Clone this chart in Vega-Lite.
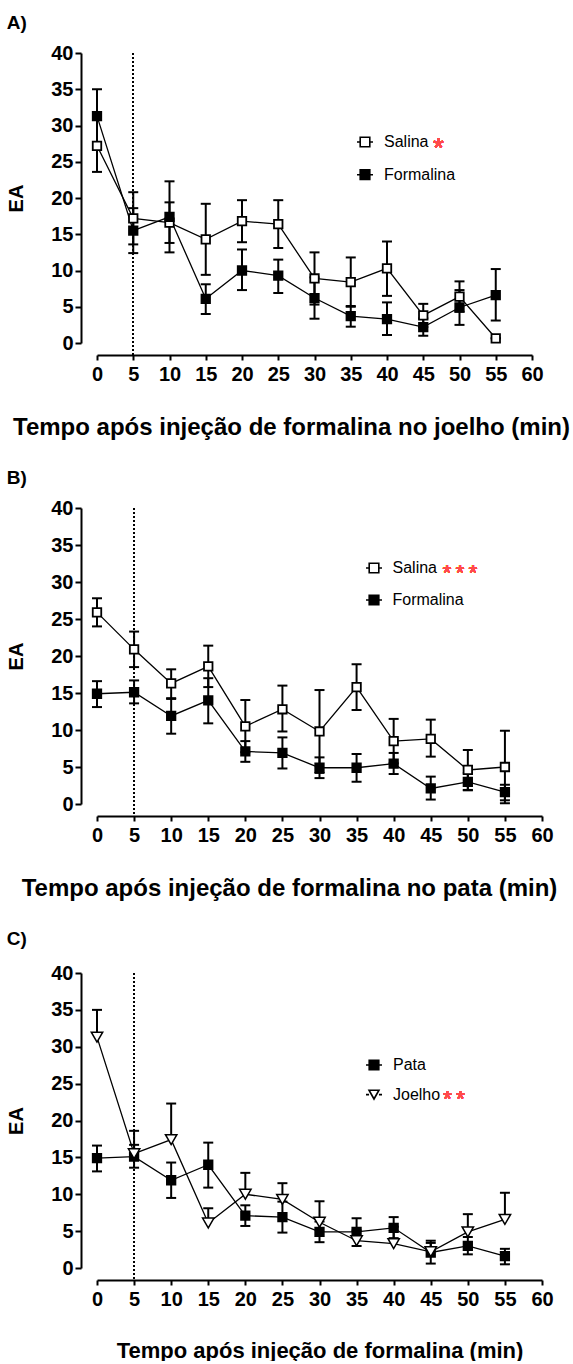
{
  "$schema": "https://vega.github.io/schema/vega-lite/v6.json",
  "padding": {"top": 14, "left": 6, "right": 0, "bottom": 0},
  "spacing": 30,
  "datasets": {
    "A": [
      {"t": 0, "grupo": "Salina", "ea": 27.2, "lo": 23.6, "hi": 30.8},
      {"t": 5, "grupo": "Salina", "ea": 17.2, "lo": 13.6, "hi": 20.8},
      {"t": 10, "grupo": "Salina", "ea": 16.6, "lo": 13.8, "hi": 19.4},
      {"t": 15, "grupo": "Salina", "ea": 14.3, "lo": 9.4, "hi": 19.2},
      {"t": 20, "grupo": "Salina", "ea": 16.8, "lo": 13.9, "hi": 19.7},
      {"t": 25, "grupo": "Salina", "ea": 16.4, "lo": 13.1, "hi": 19.7},
      {"t": 30, "grupo": "Salina", "ea": 8.9, "lo": 5.3, "hi": 12.5},
      {"t": 35, "grupo": "Salina", "ea": 8.4, "lo": 5.0, "hi": 11.8},
      {"t": 40, "grupo": "Salina", "ea": 10.3, "lo": 6.5, "hi": 14.0},
      {"t": 45, "grupo": "Salina", "ea": 3.8, "lo": 2.2, "hi": 5.4},
      {"t": 50, "grupo": "Salina", "ea": 6.4, "lo": 4.3, "hi": 8.5},
      {"t": 55, "grupo": "Salina", "ea": 0.65, "lo": 0.65, "hi": 0.65},
      {"t": 0, "grupo": "Formalina", "ea": 31.3, "lo": 27.6, "hi": 35.0},
      {"t": 5, "grupo": "Formalina", "ea": 15.5, "lo": 12.4, "hi": 18.6},
      {"t": 10, "grupo": "Formalina", "ea": 17.4, "lo": 12.5, "hi": 22.3},
      {"t": 15, "grupo": "Formalina", "ea": 6.1, "lo": 4.0, "hi": 8.1},
      {"t": 20, "grupo": "Formalina", "ea": 10.0, "lo": 7.3, "hi": 12.9},
      {"t": 25, "grupo": "Formalina", "ea": 9.3, "lo": 6.9, "hi": 11.5},
      {"t": 30, "grupo": "Formalina", "ea": 6.2, "lo": 3.35, "hi": 9.05},
      {"t": 35, "grupo": "Formalina", "ea": 3.7, "lo": 2.25, "hi": 5.1},
      {"t": 40, "grupo": "Formalina", "ea": 3.3, "lo": 1.1, "hi": 5.6},
      {"t": 45, "grupo": "Formalina", "ea": 2.2, "lo": 1.0, "hi": 3.4},
      {"t": 50, "grupo": "Formalina", "ea": 4.9, "lo": 2.5, "hi": 7.3},
      {"t": 55, "grupo": "Formalina", "ea": 6.6, "lo": 3.1, "hi": 10.2}
    ],
    "B": [
      {"t": 0, "grupo": "Salina", "ea": 25.9, "lo": 24.0, "hi": 27.8},
      {"t": 5, "grupo": "Salina", "ea": 20.9, "lo": 18.5, "hi": 23.3},
      {"t": 10, "grupo": "Salina", "ea": 16.3, "lo": 14.2, "hi": 18.2},
      {"t": 15, "grupo": "Salina", "ea": 18.6, "lo": 15.8, "hi": 21.4},
      {"t": 20, "grupo": "Salina", "ea": 10.5, "lo": 7.0, "hi": 14.05},
      {"t": 25, "grupo": "Salina", "ea": 12.8, "lo": 9.8, "hi": 16.0},
      {"t": 30, "grupo": "Salina", "ea": 9.8, "lo": 4.2, "hi": 15.4},
      {"t": 35, "grupo": "Salina", "ea": 15.8, "lo": 12.7, "hi": 18.9},
      {"t": 40, "grupo": "Salina", "ea": 8.5, "lo": 5.5, "hi": 11.5},
      {"t": 45, "grupo": "Salina", "ea": 8.8, "lo": 6.4, "hi": 11.4},
      {"t": 50, "grupo": "Salina", "ea": 4.6, "lo": 1.9, "hi": 7.3},
      {"t": 55, "grupo": "Salina", "ea": 5.0, "lo": 0.1, "hi": 9.9},
      {"t": 0, "grupo": "Formalina", "ea": 14.9, "lo": 13.1, "hi": 16.6},
      {"t": 5, "grupo": "Formalina", "ea": 15.1, "lo": 13.6, "hi": 16.7},
      {"t": 10, "grupo": "Formalina", "ea": 11.9, "lo": 9.5, "hi": 14.3},
      {"t": 15, "grupo": "Formalina", "ea": 14.0, "lo": 10.9, "hi": 17.0},
      {"t": 20, "grupo": "Formalina", "ea": 7.1, "lo": 5.7, "hi": 8.5},
      {"t": 25, "grupo": "Formalina", "ea": 6.9, "lo": 4.8, "hi": 9.0},
      {"t": 30, "grupo": "Formalina", "ea": 4.9, "lo": 3.5, "hi": 6.3},
      {"t": 35, "grupo": "Formalina", "ea": 4.9, "lo": 3.0, "hi": 6.75},
      {"t": 40, "grupo": "Formalina", "ea": 5.45, "lo": 4.05, "hi": 6.9},
      {"t": 45, "grupo": "Formalina", "ea": 2.1, "lo": 0.6, "hi": 3.7},
      {"t": 50, "grupo": "Formalina", "ea": 3.0, "lo": 1.85, "hi": 4.2},
      {"t": 55, "grupo": "Formalina", "ea": 1.6, "lo": 0.5, "hi": 2.6}
    ],
    "C": [
      {"t": 0, "grupo": "Pata", "ea": 14.9, "lo": 13.1, "hi": 16.6},
      {"t": 5, "grupo": "Pata", "ea": 15.1, "lo": 13.6, "hi": 16.7},
      {"t": 10, "grupo": "Pata", "ea": 11.9, "lo": 9.5, "hi": 14.3},
      {"t": 15, "grupo": "Pata", "ea": 14.0, "lo": 10.9, "hi": 17.0},
      {"t": 20, "grupo": "Pata", "ea": 7.1, "lo": 5.7, "hi": 8.5},
      {"t": 25, "grupo": "Pata", "ea": 6.9, "lo": 4.8, "hi": 9.0},
      {"t": 30, "grupo": "Pata", "ea": 4.9, "lo": 3.5, "hi": 6.3},
      {"t": 35, "grupo": "Pata", "ea": 4.9, "lo": 3.0, "hi": 6.75},
      {"t": 40, "grupo": "Pata", "ea": 5.45, "lo": 4.05, "hi": 6.9},
      {"t": 45, "grupo": "Pata", "ea": 2.1, "lo": 0.6, "hi": 3.7},
      {"t": 50, "grupo": "Pata", "ea": 3.0, "lo": 1.85, "hi": 4.2},
      {"t": 55, "grupo": "Pata", "ea": 1.6, "lo": 0.5, "hi": 2.6},
      {"t": 0, "grupo": "Joelho", "ea": 31.3, "lo": 31.3, "hi": 35.0},
      {"t": 5, "grupo": "Joelho", "ea": 15.5, "lo": 15.5, "hi": 18.6},
      {"t": 10, "grupo": "Joelho", "ea": 17.4, "lo": 17.4, "hi": 22.3},
      {"t": 15, "grupo": "Joelho", "ea": 6.1, "lo": 6.1, "hi": 8.1},
      {"t": 20, "grupo": "Joelho", "ea": 10.0, "lo": 10.0, "hi": 12.9},
      {"t": 25, "grupo": "Joelho", "ea": 9.3, "lo": 9.3, "hi": 11.5},
      {"t": 30, "grupo": "Joelho", "ea": 6.2, "lo": 6.2, "hi": 9.05},
      {"t": 35, "grupo": "Joelho", "ea": 3.7, "lo": 3.7, "hi": 5.1},
      {"t": 40, "grupo": "Joelho", "ea": 3.3, "lo": 3.3, "hi": 5.6},
      {"t": 45, "grupo": "Joelho", "ea": 2.2, "lo": 2.2, "hi": 3.4},
      {"t": 50, "grupo": "Joelho", "ea": 4.9, "lo": 4.9, "hi": 7.3},
      {"t": 55, "grupo": "Joelho", "ea": 6.6, "lo": 6.6, "hi": 10.2}
    ]
  },
  "resolve": {"scale": {"fill": "independent", "stroke": "independent"}, "legend": {"fill": "independent", "stroke": "independent"}},
  "vconcat": [
    {
      "width": 435,
      "height": 290,
      "title": {"text": "A)"},
      "data": {"name": "A"},
      "encoding": {
        "x": {"field": "t", "type": "quantitative", "title": "Tempo após injeção de formalina no joelho (min)",
              "scale": {"domain": [0, 60], "nice": false},
              "axis": {"values": [0,5,10,15,20,25,30,35,40,45,50,55,60], "labelOverlap": false, "labelSeparation": -40, "titleFontSize": 24, "titleX": 194}},
        "y": {"field": "ea", "type": "quantitative", "title": "EA",
              "scale": {"domain": [0, 40], "nice": false},
              "axis": {"values": [0,5,10,15,20,25,30,35,40], "labelOverlap": false, "labelSeparation": -40}}
      },
      "layer": [
        {
          "mark": {"type": "rule", "strokeDash": [2, 2], "strokeWidth": 1, "color": "black"},
          "encoding": {
            "x": {"datum": 5, "type": "quantitative"},
            "y": {"datum": 40, "type": "quantitative"},
            "y2": {"datum": -1.6}
          }
        },
        {
          "mark": {"type": "line", "color": "black", "strokeWidth": 1.3},
          "encoding": {"detail": {"field": "grupo"}}
        },
        {
          "mark": {"type": "rule", "color": "black", "strokeWidth": 2},
          "encoding": {"y": {"field": "lo", "type": "quantitative", "title": "EA"}, "y2": {"field": "hi"}}
        },
        {
          "mark": {"type": "tick", "orient": "horizontal", "size": 10, "thickness": 2, "color": "black", "opacity": 1},
          "encoding": {"y": {"field": "lo", "type": "quantitative", "title": "EA"}}
        },
        {
          "mark": {"type": "tick", "orient": "horizontal", "size": 10, "thickness": 2, "color": "black", "opacity": 1},
          "encoding": {"y": {"field": "hi", "type": "quantitative", "title": "EA"}}
        },
        {
          "mark": {"type": "point", "shape": "square", "size": 72, "filled": true, "opacity": 1, "stroke": "black", "strokeWidth": 1.8},
          "encoding": {
            "fill": {"field": "grupo", "type": "nominal",
                     "scale": {"domain": ["Salina", "Formalina"], "range": ["white", "black"]},
                     "legend": {"orient": "none", "legendX": 259, "legendY": 80, "rowPadding": 15.7, "labelOffset": 10,
                                "symbolType": "M-1,0H-0.6M0.6,0H1M-0.6,-0.6H0.6V0.6H-0.6Z"}}
          }
        },
        {
          "mark": {"type": "text", "text": "*", "fontSize": 27, "color": "#ff4a4a", "align": "center", "baseline": "middle", "dy": 8},
          "encoding": {
            "x": {"datum": 47.1, "type": "quantitative"},
            "y": {"datum": 27.9, "type": "quantitative"}
          }
        }
      ]
    },
    {
      "width": 445,
      "height": 296,
      "title": {"text": "B)"},
      "data": {"name": "B"},
      "encoding": {
        "x": {"field": "t", "type": "quantitative", "title": "Tempo após injeção de formalina no pata (min)",
              "scale": {"domain": [0, 60], "nice": false},
              "axis": {"values": [0,5,10,15,20,25,30,35,40,45,50,55,60], "labelOverlap": false, "labelSeparation": -40, "titleFontSize": 24, "titleX": 192}},
        "y": {"field": "ea", "type": "quantitative", "title": "EA",
              "scale": {"domain": [0, 40], "nice": false},
              "axis": {"values": [0,5,10,15,20,25,30,35,40], "labelOverlap": false, "labelSeparation": -40}}
      },
      "layer": [
        {
          "mark": {"type": "rule", "strokeDash": [2, 2], "strokeWidth": 1, "color": "black"},
          "encoding": {
            "x": {"datum": 5, "type": "quantitative"},
            "y": {"datum": 40, "type": "quantitative"},
            "y2": {"datum": -1.6}
          }
        },
        {
          "mark": {"type": "line", "color": "black", "strokeWidth": 1.3},
          "encoding": {"detail": {"field": "grupo"}}
        },
        {
          "mark": {"type": "rule", "color": "black", "strokeWidth": 2},
          "encoding": {"y": {"field": "lo", "type": "quantitative", "title": "EA"}, "y2": {"field": "hi"}}
        },
        {
          "mark": {"type": "tick", "orient": "horizontal", "size": 10, "thickness": 2, "color": "black", "opacity": 1},
          "encoding": {"y": {"field": "lo", "type": "quantitative", "title": "EA"}}
        },
        {
          "mark": {"type": "tick", "orient": "horizontal", "size": 10, "thickness": 2, "color": "black", "opacity": 1},
          "encoding": {"y": {"field": "hi", "type": "quantitative", "title": "EA"}}
        },
        {
          "mark": {"type": "point", "shape": "square", "size": 72, "filled": true, "opacity": 1, "stroke": "black", "strokeWidth": 1.8},
          "encoding": {
            "fill": {"field": "grupo", "type": "nominal",
                     "scale": {"domain": ["Salina", "Formalina"], "range": ["white", "black"]},
                     "legend": {"orient": "none", "legendX": 268, "legendY": 51, "rowPadding": 15, "labelOffset": 9.5,
                                "symbolType": "M-1,0H-0.6M0.6,0H1M-0.6,-0.6H0.6V0.6H-0.6Z"}}
          }
        },
        {
          "mark": {"type": "text", "text": "*\u2009*\u2009*", "fontSize": 22, "color": "#ff4a4a", "align": "center", "baseline": "middle", "dy": 6},
          "encoding": {
            "x": {"datum": 48.94, "type": "quantitative"},
            "y": {"datum": 31.99, "type": "quantitative"}
          }
        }
      ]
    },
    {
      "width": 445,
      "height": 295,
      "title": {"text": "C)", "offset": 14},
      "data": {"name": "C"},
      "encoding": {
        "x": {"field": "t", "type": "quantitative", "title": "Tempo após injeção de formalina  (min)",
              "scale": {"domain": [0, 60], "nice": false},
              "axis": {"values": [0,5,10,15,20,25,30,35,40,45,50,55,60], "labelOverlap": false, "labelSeparation": -40}},
        "y": {"field": "ea", "type": "quantitative", "title": "EA",
              "scale": {"domain": [0, 40], "nice": false},
              "axis": {"values": [0,5,10,15,20,25,30,35,40], "labelOverlap": false, "labelSeparation": -40}}
      },
      "layer": [
        {
          "mark": {"type": "rule", "strokeDash": [2, 2], "strokeWidth": 1, "color": "black"},
          "encoding": {
            "x": {"datum": 5, "type": "quantitative"},
            "y": {"datum": 40, "type": "quantitative"},
            "y2": {"datum": -1.6}
          }
        },
        {
          "mark": {"type": "line", "color": "black", "strokeWidth": 1.3},
          "encoding": {"detail": {"field": "grupo"}}
        },
        {
          "mark": {"type": "rule", "color": "black", "strokeWidth": 2},
          "encoding": {"y": {"field": "lo", "type": "quantitative", "title": "EA"}, "y2": {"field": "hi"}}
        },
        {
          "transform": [{"filter": "datum.grupo === 'Pata'"}],
          "mark": {"type": "tick", "orient": "horizontal", "size": 10, "thickness": 2, "color": "black", "opacity": 1},
          "encoding": {"y": {"field": "lo", "type": "quantitative", "title": "EA"}}
        },
        {
          "mark": {"type": "tick", "orient": "horizontal", "size": 10, "thickness": 2, "color": "black", "opacity": 1},
          "encoding": {"y": {"field": "hi", "type": "quantitative", "title": "EA"}}
        },
        {
          "transform": [{"filter": "datum.grupo === 'Pata'"}],
          "mark": {"type": "point", "shape": "square", "size": 72, "filled": true, "opacity": 1, "stroke": "black", "strokeWidth": 1.8},
          "encoding": {
            "fill": {"field": "grupo", "type": "nominal",
                     "scale": {"domain": ["Pata"], "range": ["black"]},
                     "legend": {"orient": "none", "legendX": 268, "legendY": 83, "labelOffset": 10,
                                "symbolType": "M-1,0H-0.6M0.6,0H1M-0.6,-0.6H0.6V0.6H-0.6Z"}}
          }
        },
        {
          "transform": [{"filter": "datum.grupo === 'Joelho'"}],
          "mark": {"type": "point", "shape": "triangle-down", "size": 130, "filled": true, "fill": "white", "opacity": 1, "strokeWidth": 1.5},
          "encoding": {
            "stroke": {"field": "grupo", "type": "nominal",
                       "scale": {"domain": ["Joelho"], "range": ["black"]},
                       "legend": {"orient": "none", "legendX": 268, "legendY": 112.6, "labelOffset": 10,
                                  "symbolFillColor": "white",
                                  "symbolType": "M-1,0H-0.62M0.62,0H1M0,0.55L-0.62,-0.55L0.62,-0.55Z"}}
          }
        },
        {
          "mark": {"type": "text", "text": "*\u2009*", "fontSize": 22, "color": "#ff4a4a", "align": "center", "baseline": "middle", "dy": 6},
          "encoding": {
            "x": {"datum": 48.13, "type": "quantitative"},
            "y": {"datum": 23.69, "type": "quantitative"}
          }
        }
      ]
    }
  ],
  "config": {
    "font": "Liberation Sans",
    "view": {"stroke": null},
    "title": {"anchor": "start", "frame": "bounds", "fontSize": 19, "fontWeight": "bold", "offset": 10, "color": "black"},
    "axis": {
      "grid": false,
      "domainColor": "black",
      "domainWidth": 2,
      "tickColor": "black",
      "tickWidth": 2,
      "labelColor": "black",
      "labelFontSize": 20,
      "labelFontWeight": "bold",
      "labelFlush": false,
      "labelOverlap": false,
      "labelSeparation": -40,
      "titleColor": "black",
      "titleFontWeight": "bold"
    },
    "axisX": {"offset": 12, "tickSize": 5, "labelPadding": 4, "titleFontSize": 22, "titlePadding": 31},
    "axisY": {"offset": 16, "tickSize": 6, "labelPadding": 2, "titleFontSize": 20, "titlePadding": 24},
    "legend": {
      "title": null,
      "symbolSize": 256,
      "symbolStrokeColor": "black",
      "symbolStrokeWidth": 1.6,
      "labelFontSize": 16,
      "labelColor": "black",
      "padding": 0
    }
  }
}
